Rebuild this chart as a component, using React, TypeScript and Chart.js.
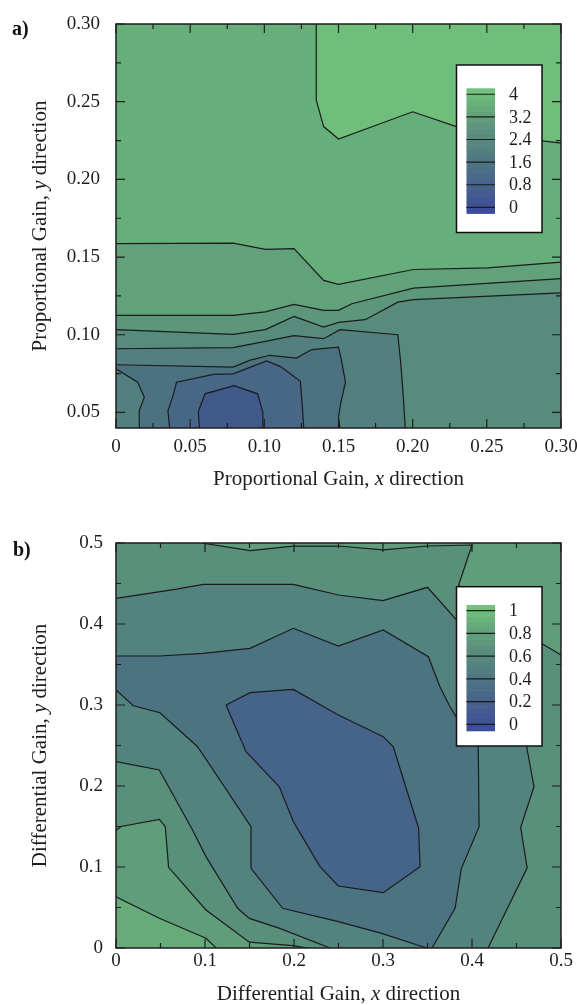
import React, { useEffect, useRef } from 'react';
import { Chart, registerables } from 'chart.js';

Chart.register(...registerables);

type P = [number, number];

const FAMILY = "'Liberation Serif', 'Times New Roman', serif";

// ---------------- Panel a ----------------
const A_X_RANGE = [0, 0.3];
const A_Y_RANGE = [0.04, 0.3];
const A_X_TICKS = [0, 0.05, 0.1, 0.15, 0.2, 0.25, 0.3];
const A_X_LABELS = ['0', '0.05', '0.10', '0.15', '0.20', '0.25', '0.30'];
const A_X_MINOR = [0.025, 0.075, 0.125, 0.175, 0.225, 0.275];
const A_Y_TICKS = [0.05, 0.1, 0.15, 0.2, 0.25, 0.3];
const A_Y_LABELS = ['0.05', '0.10', '0.15', '0.20', '0.25', '0.30'];
const A_Y_MINOR = [0.075, 0.125, 0.175, 0.225, 0.275];

const A_L1: P[] = [[0.135, 0.3], [0.135, 0.251], [0.14, 0.234], [0.15, 0.226], [0.2, 0.2435], [0.23, 0.2338], [0.265, 0.228], [0.289, 0.2246], [0.3, 0.2233]];
const A_L2: P[] = [[0, 0.1587], [0.079, 0.159], [0.1007, 0.155], [0.12, 0.1555], [0.14, 0.135], [0.15, 0.1325], [0.2005, 0.142], [0.2505, 0.143], [0.3, 0.1468]];
const A_L3: P[] = [[0, 0.1125], [0.079, 0.1125], [0.1007, 0.1147], [0.12, 0.1196], [0.14, 0.1157], [0.15, 0.1157], [0.159, 0.12], [0.2005, 0.13], [0.3, 0.1361]];
const A_L4: P[] = [[0, 0.1033], [0.079, 0.1003], [0.1007, 0.1033], [0.12, 0.1118], [0.14, 0.105], [0.15, 0.108], [0.168, 0.1097], [0.19, 0.121], [0.2005, 0.1226], [0.3, 0.1269]];
const A_L5: P[] = [[0, 0.091], [0.079, 0.0917], [0.1007, 0.0957], [0.12, 0.0994], [0.14, 0.0975], [0.151, 0.1033], [0.19, 0.1], [0.192, 0.0814], [0.1937, 0.06], [0.195, 0.04]];
const A_L6: P[] = [[0, 0.0807], [0.079, 0.0792], [0.09, 0.0835], [0.1036, 0.0868], [0.1216, 0.085], [0.132, 0.0905], [0.15, 0.092], [0.152, 0.0835], [0.1547, 0.0695], [0.1514, 0.0556], [0.15, 0.047], [0.151, 0.04]];
const A_L7: P[] = [[0, 0.0781], [0.0146, 0.0695], [0.0191, 0.0598], [0.0157, 0.0512], [0.0157, 0.04]];
const A_L8: P[] = [[0.0362, 0.04], [0.035, 0.051], [0.0385, 0.061], [0.0408, 0.0695], [0.0657, 0.0745], [0.079, 0.0748], [0.1015, 0.0832], [0.111, 0.0795], [0.1243, 0.07], [0.1255, 0.0556], [0.1266, 0.04]];
const A_L9: P[] = [[0.0562, 0.04], [0.0555, 0.0505], [0.06, 0.062], [0.0795, 0.0672], [0.0955, 0.062], [0.099, 0.05], [0.099, 0.04]];

const A_BAND_COLORS = ['#6fbe7c', '#67af7a', '#61a27a', '#5c977b', '#578b7c', '#52807e', '#4c7281', '#486786', '#42598c'];

const A_CB_LEVELS = [0, 0.8, 1.6, 2.4, 3.2, 4];
const A_CB_LABELS = ['0', '0.8', '1.6', '2.4', '3.2', '4'];
const A_CB_RANGE = [-0.21, 4.21];

// ---------------- Panel b ----------------
const B_X_RANGE = [0, 0.5];
const B_Y_RANGE = [0, 0.5];
const B_X_TICKS = [0, 0.1, 0.2, 0.3, 0.4, 0.5];
const B_X_LABELS = ['0', '0.1', '0.2', '0.3', '0.4', '0.5'];
const B_X_MINOR = [0.05, 0.15, 0.25, 0.35, 0.45];
const B_Y_TICKS = [0, 0.1, 0.2, 0.3, 0.4, 0.5];
const B_Y_LABELS = ['0', '0.1', '0.2', '0.3', '0.4', '0.5'];
const B_Y_MINOR = [0.05, 0.15, 0.25, 0.35, 0.45];

const B_N1: P[] = [[0, 0.0633], [0.0487, 0.0367], [0.1011, 0.012], [0.1124, 0]];
const B_N2: P[] = [[0, 0.1449], [0.0056, 0.15], [0.0487, 0.1589], [0.0554, 0.1498], [0.0591, 0.0996], [0.1011, 0.0469], [0.1498, 0.0072], [0.1985, 0.003], [0.215, 0]];
const B_N3: P[] = [[0, 0.23], [0.0487, 0.2198], [0.086, 0.1457], [0.1011, 0.1128], [0.1367, 0.049], [0.1498, 0.0366], [0.184, 0.0243], [0.2404, 0]];
const B_N4: P[] = [[0, 0.3185], [0.0195, 0.2991], [0.0494, 0.2905], [0.0917, 0.2485], [0.1517, 0.1498], [0.1517, 0.0984], [0.1873, 0.049], [0.2498, 0.0325], [0.2985, 0.018], [0.349, 0]];
const B_N5: P[] = [[0.1236, 0.3], [0.1506, 0.3152], [0.1993, 0.3193], [0.2498, 0.2877], [0.3003, 0.2609], [0.3116, 0.2485], [0.336, 0.162], [0.34, 0.148], [0.3416, 0.1004], [0.3003, 0.0683], [0.2498, 0.0765], [0.2292, 0.1004], [0.1993, 0.1559], [0.1835, 0.1991], [0.1461, 0.2423], [0.1236, 0.3]];
const B_Q: P[] = [[0, 0.3605], [0.0494, 0.3605], [0.098, 0.3638], [0.1506, 0.37], [0.1993, 0.3947], [0.2498, 0.3728], [0.3003, 0.3926], [0.351, 0.3596], [0.364, 0.3226], [0.3753, 0.2979], [0.382, 0.2856], [0.407, 0.2485], [0.408, 0.1497], [0.388, 0.098], [0.381, 0.049], [0.355, 0]];
const B_P: P[] = [[0, 0.4317], [0.068, 0.443], [0.098, 0.449], [0.199, 0.449], [0.25, 0.4358], [0.3, 0.4288], [0.35, 0.4453], [0.382, 0.4058], [0.42, 0.33], [0.4614, 0.2485], [0.4697, 0.199], [0.4547, 0.149], [0.462, 0.099], [0.418, 0]];
const B_M1: P[] = [[0.096, 0.5], [0.151, 0.4905], [0.199, 0.4962], [0.25, 0.4963], [0.3, 0.4914], [0.35, 0.4963], [0.4, 0.4975], [0.385, 0.448], [0.43, 0.41], [0.4783, 0.376], [0.5, 0.3617]];

const B_BAND_COLORS = ['#68ab7b', '#609e7b', '#59907c', '#53837e', '#4c7382', '#46648a'];

const B_CB_LEVELS = [0, 0.2, 0.4, 0.6, 0.8, 1];
const B_CB_LABELS = ['0', '0.2', '0.4', '0.6', '0.8', '1'];
const B_CB_RANGE = [-0.056, 1.05];

// colour scale for the colour bars (normalised position -> colour)
const CB_STOPS: [number, string][] = [
  [0, '#3c4a9a'], [0.14, '#445993'], [0.32, '#4a6b87'], [0.5, '#537f80'],
  [0.68, '#5c937c'], [0.86, '#67ac7a'], [1, '#75c57e'],
];

function hexToRgb(h: string) {
  const n = parseInt(h.slice(1), 16);
  return [(n >> 16) & 255, (n >> 8) & 255, n & 255];
}
function colorAt(t: number) {
  t = Math.max(0, Math.min(1, t));
  for (let i = 0; i < CB_STOPS.length - 1; i++) {
    const [t0, c0] = CB_STOPS[i];
    const [t1, c1] = CB_STOPS[i + 1];
    if (t <= t1) {
      const f = (t - t0) / (t1 - t0);
      const a = hexToRgb(c0), b = hexToRgb(c1);
      const r = a.map((v, k) => Math.round(v + (b[k] - v) * f));
      return `rgb(${r[0]},${r[1]},${r[2]})`;
    }
  }
  return CB_STOPS[CB_STOPS.length - 1][1];
}

const rev = (p: P[]) => p.slice().reverse();
const toXY = (p: P[]) => p.map(([x, y]) => ({ x, y }));

function fillDs(points: P[], color: string, order: number) {
  return {
    data: toXY(points), showLine: true, fill: 'shape', backgroundColor: color,
    borderWidth: 0, pointRadius: 0, pointHoverRadius: 0, tension: 0, order,
  };
}
function lineDs(points: P[], order: number) {
  return {
    data: toXY(points), showLine: true, fill: false, borderColor: '#1b1b1b',
    borderWidth: 1.2, pointRadius: 0, pointHoverRadius: 0, tension: 0, order,
  };
}

function buildA() {
  const [x0, x1] = A_X_RANGE, [y0, y1] = A_Y_RANGE;
  const fills: P[][] = [
    [[x0, y0], [x1, y0], [x1, y1], [x0, y1]],
    [[x0, y1], ...A_L1, [x1, y0], [x0, y0]],
    [...A_L2, [x1, y0], [x0, y0]],
    [...A_L3, [x1, y0], [x0, y0]],
    [...A_L4, [x1, y0], [x0, y0]],
    [...A_L5, [x0, y0]],
    [...A_L6, ...rev(A_L7)],
    [...A_L8],
    [...A_L9],
  ];
  const lines = [A_L1, A_L2, A_L3, A_L4, A_L5, A_L6, A_L7, A_L8, A_L9];
  const ds: any[] = [];
  let k = 0;
  fills.forEach((f, i) => ds.push(fillDs(f, A_BAND_COLORS[i], -(k++))));
  lines.forEach((l) => ds.push(lineDs(l, -(k++))));
  return ds;
}

function buildB() {
  const [x0, x1] = B_X_RANGE, [y0, y1] = B_Y_RANGE;
  const fills: P[][] = [
    [[x0, y0], [x1, y0], [x1, y1], [x0, y1]],
    [...B_N1, [x1, y0], [x1, y1], [x0, y1]],
    [...B_N2, [x1, y0], ...rev(B_M1), [x0, y1]],
    [...B_N3, ...rev(B_P)],
    [...B_N4, ...rev(B_Q)],
    [...B_N5],
  ];
  const lines = [B_N1, B_N2, B_N3, B_N4, B_N5, B_Q, B_P, B_M1];
  const ds: any[] = [];
  let k = 0;
  fills.forEach((f, i) => ds.push(fillDs(f, B_BAND_COLORS[i], -(k++))));
  lines.forEach((l) => ds.push(lineDs(l, -(k++))));
  return ds;
}

type Part = { text: string; italic?: boolean };

function drawParts(ctx: CanvasRenderingContext2D, parts: Part[], x: number, y: number, rotate: boolean, size: number) {
  ctx.save();
  ctx.translate(x, y);
  if (rotate) ctx.rotate(-Math.PI / 2);
  const fonts = parts.map((p) => `${p.italic ? 'italic ' : ''}${size}px ${FAMILY}`);
  const widths = parts.map((p, i) => { ctx.font = fonts[i]; return ctx.measureText(p.text).width; });
  const total = widths.reduce((a, b) => a + b, 0);
  let cx = -total / 2;
  ctx.fillStyle = '#1e1e1e';
  ctx.textAlign = 'left';
  ctx.textBaseline = 'alphabetic';
  parts.forEach((p, i) => { ctx.font = fonts[i]; ctx.fillText(p.text, cx, 0); cx += widths[i]; });
  ctx.restore();
}

function decor(cfg: any) {
  return {
    id: 'decor',
    afterDatasetsDraw(chart: any) {
      const { ctx, chartArea: a, scales } = chart;
      const xs = scales.x, ys = scales.y;
      ctx.save();
      ctx.strokeStyle = '#1e1e1e';
      ctx.lineWidth = 1.2;
      ctx.beginPath();
      const vx = (vals: number[], len: number) => vals.forEach((v) => {
        const px = xs.getPixelForValue(v);
        ctx.moveTo(px, a.bottom); ctx.lineTo(px, a.bottom - len);
        ctx.moveTo(px, a.top); ctx.lineTo(px, a.top + len);
      });
      const vy = (vals: number[], len: number) => vals.forEach((v) => {
        const py = ys.getPixelForValue(v);
        ctx.moveTo(a.left, py); ctx.lineTo(a.left + len, py);
        ctx.moveTo(a.right, py); ctx.lineTo(a.right - len, py);
      });
      vx(cfg.xMajor, 9); vx(cfg.xMinor, 5);
      vy(cfg.yMajor, 9); vy(cfg.yMinor, 5);
      ctx.stroke();
      ctx.lineWidth = 1.5;
      ctx.strokeRect(a.left, a.top, a.right - a.left, a.bottom - a.top);
      ctx.restore();
    },
    afterDraw(chart: any) {
      const { ctx } = chart;
      const cb = cfg.cb;
      ctx.save();
      // legend box
      ctx.fillStyle = '#ffffff';
      ctx.fillRect(cb.box[0], cb.box[1], cb.box[2], cb.box[3]);
      ctx.strokeStyle = '#111';
      ctx.lineWidth = 1.5;
      ctx.strokeRect(cb.box[0], cb.box[1], cb.box[2], cb.box[3]);
      const [lo, hi] = cb.range;
      const [bx, by, bw, bh] = cb.bar;
      const yOf = (v: number) => by + ((hi - v) / (hi - lo)) * bh;
      const levels: number[] = cb.levels;
      const bounds: number[] = [lo];
      levels.forEach((lv, i) => {
        bounds.push(lv);
        if (i < levels.length - 1) {
          for (let s = 1; s < 4; s++) bounds.push(lv + ((levels[i + 1] - lv) * s) / 4);
        }
      });
      bounds.push(hi);
      for (let i = 0; i < bounds.length - 1; i++) {
        const v0 = bounds[i], v1 = bounds[i + 1];
        ctx.fillStyle = colorAt(((v0 + v1) / 2 - lo) / (hi - lo));
        const top = yOf(v1), bot = yOf(v0);
        ctx.fillRect(bx, top, bw, bot - top + 0.6);
      }
      ctx.strokeStyle = '#1b1b1b';
      ctx.lineWidth = 1.2;
      ctx.beginPath();
      levels.forEach((lv) => { const y = yOf(lv); ctx.moveTo(bx, y); ctx.lineTo(bx + bw, y); });
      ctx.stroke();
      ctx.fillStyle = '#1e1e1e';
      ctx.font = `18px ${FAMILY}`;
      ctx.textAlign = 'left';
      ctx.textBaseline = 'middle';
      levels.forEach((lv, i) => ctx.fillText(cb.labels[i], bx + bw + 14, yOf(lv) + 1));
      ctx.restore();

      // axis titles
      drawParts(ctx, cfg.xTitle, cfg.xTitlePos[0], cfg.xTitlePos[1], false, 21);
      drawParts(ctx, cfg.yTitle, cfg.yTitlePos[0], cfg.yTitlePos[1], true, 21);
      // panel label
      ctx.save();
      ctx.fillStyle = '#111';
      ctx.font = `bold 20px ${FAMILY}`;
      ctx.textAlign = 'left';
      ctx.textBaseline = 'alphabetic';
      ctx.fillText(cfg.panel, cfg.panelPos[0], cfg.panelPos[1]);
      ctx.restore();
    },
  };
}

function makeChart(canvas: HTMLCanvasElement, p: any) {
  const tickFont = { family: FAMILY, size: 19 };
  return new Chart(canvas, {
    type: 'scatter',
    data: { datasets: p.datasets },
    options: {
      responsive: false,
      animation: false,
      events: [],
      layout: { padding: { top: p.padTop, right: 16, left: 0, bottom: 0 } },
      plugins: { legend: { display: false }, tooltip: { enabled: false } },
      scales: {
        x: {
          type: 'linear', min: p.xRange[0], max: p.xRange[1],
          grid: { display: false, drawTicks: false },
          border: { display: false },
          afterBuildTicks: (s: any) => { s.ticks = p.xTicks.map((v: number) => ({ value: v })); },
          afterFit: (s: any) => { s.height = p.xAxisH; s.paddingLeft = 0; s.paddingRight = 0; },
          ticks: {
            autoSkip: false, maxRotation: 0, color: '#1e1e1e', font: tickFont, padding: p.xPad,
            callback: (v: any) => p.xLabels[p.xTicks.findIndex((t: number) => Math.abs(t - v) < 1e-9)],
          },
        },
        y: {
          type: 'linear', min: p.yRange[0], max: p.yRange[1],
          grid: { display: false, drawTicks: false },
          border: { display: false },
          afterBuildTicks: (s: any) => { s.ticks = p.yTicks.map((v: number) => ({ value: v })); },
          afterFit: (s: any) => { s.width = 116; s.paddingTop = 0; s.paddingBottom = 0; },
          ticks: {
            autoSkip: false, color: '#1e1e1e', font: tickFont, padding: p.yPad,
            callback: (v: any) => p.yLabels[p.yTicks.findIndex((t: number) => Math.abs(t - v) < 1e-9)],
          },
        },
      },
    } as any,
    plugins: [decor(p.decor)],
  });
}

export default function App() {
  const refA = useRef<HTMLCanvasElement>(null);
  const refB = useRef<HTMLCanvasElement>(null);

  useEffect(() => {
    const chartA = makeChart(refA.current!, {
      datasets: buildA(), padTop: 24, xAxisH: 72, xPad: 8, yPad: 16,
      xRange: A_X_RANGE, yRange: A_Y_RANGE,
      xTicks: A_X_TICKS, xLabels: A_X_LABELS, yTicks: A_Y_TICKS, yLabels: A_Y_LABELS,
      decor: {
        xMajor: A_X_TICKS, xMinor: A_X_MINOR, yMajor: A_Y_TICKS, yMinor: A_Y_MINOR,
        cb: { box: [456.5, 65, 85.5, 167.5], bar: [466.5, 88.3, 28.5, 125], range: A_CB_RANGE, levels: A_CB_LEVELS, labels: A_CB_LABELS },
        xTitle: [{ text: 'Proportional Gain, ' }, { text: 'x', italic: true }, { text: ' direction' }],
        yTitle: [{ text: 'Proportional Gain, ' }, { text: 'y', italic: true }, { text: ' direction' }],
        xTitlePos: [338.5, 485], yTitlePos: [45.5, 226],
        panel: 'a)', panelPos: [12, 35],
      },
    });
    const chartB = makeChart(refB.current!, {
      datasets: buildB(), padTop: 43, xAxisH: 57, xPad: 2, yPad: 13,
      xRange: B_X_RANGE, yRange: B_Y_RANGE,
      xTicks: B_X_TICKS, xLabels: B_X_LABELS, yTicks: B_Y_TICKS, yLabels: B_Y_LABELS,
      decor: {
        xMajor: B_X_TICKS, xMinor: B_X_MINOR, yMajor: B_Y_TICKS, yMinor: B_Y_MINOR,
        cb: { box: [456.5, 86.7, 85.5, 159.3], bar: [466.5, 105, 28.5, 125.7], range: B_CB_RANGE, levels: B_CB_LEVELS, labels: B_CB_LABELS },
        xTitle: [{ text: 'Differential Gain, ' }, { text: 'x', italic: true }, { text: ' direction' }],
        yTitle: [{ text: 'Differential Gain, ' }, { text: 'y', italic: true }, { text: ' direction' }],
        xTitlePos: [338.5, 500], yTitlePos: [46, 245.5],
        panel: 'b)', panelPos: [13, 56],
      },
    });
    return () => { chartA.destroy(); chartB.destroy(); };
  }, []);

  return (
    <div style={{ position: 'absolute', left: 0, top: 0, width: 577, height: 1005, background: '#fff' }}>
      <canvas ref={refA} width={577} height={500} style={{ display: 'block', width: 577, height: 500 }} />
      <canvas ref={refB} width={577} height={505} style={{ display: 'block', width: 577, height: 505 }} />
    </div>
  );
}
